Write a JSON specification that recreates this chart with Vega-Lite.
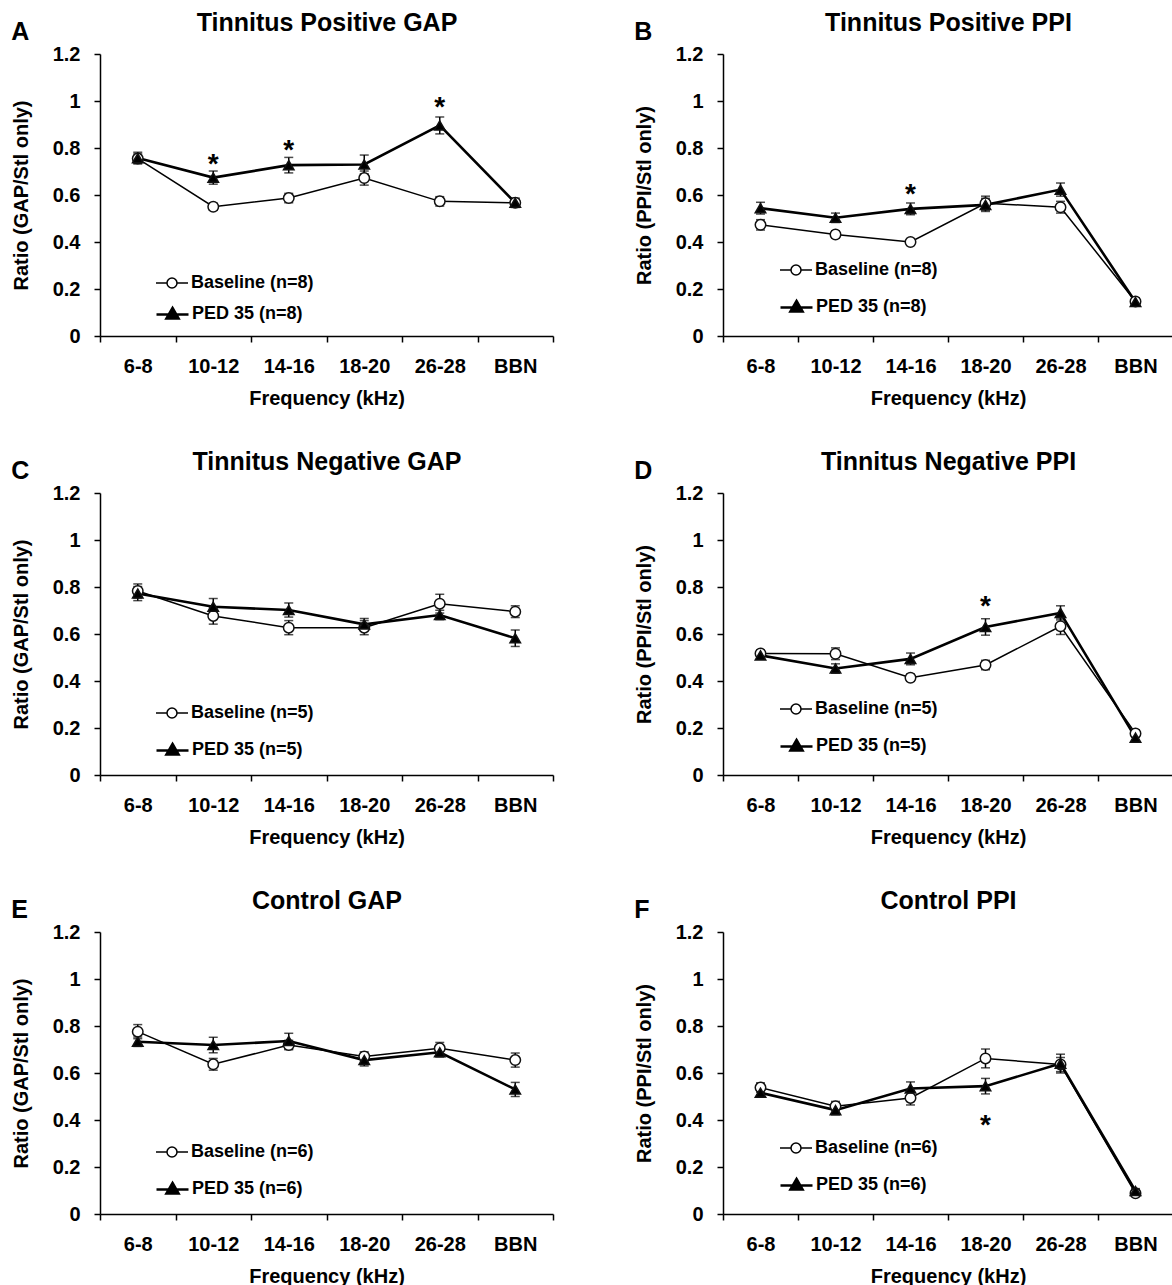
{
  "$schema": "https://vega.github.io/schema/vega-lite/v6.json",
  "padding": {"left": 11, "top": 10, "right": 0, "bottom": 0},
  "background": "white",
  "columns": 2,
  "spacing": {"row": 41, "column": 80},
  "resolve": {
    "scale": {"x": "independent", "y": "independent", "opacity": "independent", "strokeWidth": "independent"},
    "axis": {"x": "independent", "y": "independent"},
    "legend": {"opacity": "independent", "strokeWidth": "independent"}
  },
  "config": {
    "font": "Liberation Sans",
    "view": {"stroke": null},
    "axis": {"labelFontSize": 20, "labelFontWeight": "bold", "labelColor": "black", "titleFontSize": 20, "titleFontWeight": "bold", "titleColor": "black", "domainColor": "black", "domainWidth": 1.5, "tickColor": "black", "tickWidth": 1.5, "tickSize": 6, "grid": false},
    "legend": {"labelFontSize": 18, "labelFontWeight": "bold", "labelColor": "black", "symbolSize": 400, "symbolStrokeWidth": 1.5, "symbolStrokeColor": "black", "labelOffset": 8, "padding": 0},
    "title": {"fontSize": 25, "fontWeight": "bold", "color": "black"}
  },
  "concat": [
    {
      "width": 453, "height": 282,
      "title": {"text": "A", "anchor": "start", "frame": "bounds", "offset": -55, "baseline": "alphabetic"},
      "data": {"values": [
        {"freq": "6-8", "group": "Baseline (n=8)", "mean": 0.755, "err": 0.02},
        {"freq": "10-12", "group": "Baseline (n=8)", "mean": 0.55, "err": 0.015},
        {"freq": "14-16", "group": "Baseline (n=8)", "mean": 0.587, "err": 0.02},
        {"freq": "18-20", "group": "Baseline (n=8)", "mean": 0.672, "err": 0.03},
        {"freq": "26-28", "group": "Baseline (n=8)", "mean": 0.573, "err": 0.02},
        {"freq": "BBN", "group": "Baseline (n=8)", "mean": 0.567, "err": 0.015},
        {"freq": "6-8", "group": "PED 35 (n=8)", "mean": 0.757, "err": 0.025},
        {"freq": "10-12", "group": "PED 35 (n=8)", "mean": 0.674, "err": 0.028},
        {"freq": "14-16", "group": "PED 35 (n=8)", "mean": 0.727, "err": 0.033},
        {"freq": "18-20", "group": "PED 35 (n=8)", "mean": 0.73, "err": 0.04},
        {"freq": "26-28", "group": "PED 35 (n=8)", "mean": 0.896, "err": 0.036},
        {"freq": "BBN", "group": "PED 35 (n=8)", "mean": 0.567, "err": 0.02}
      ]},
      "resolve": {"axis": {"x": "independent"}},
      "layer": [
        {
          "encoding": {
            "x": {"field": "freq", "type": "ordinal", "sort": ["6-8", "10-12", "14-16", "18-20", "26-28", "BBN"], "scale": {"type": "band", "paddingInner": 0, "paddingOuter": 0}, "axis": {"title": "Frequency (kHz)", "labelAngle": 0, "tickBand": "extent", "labelPadding": 14, "titlePadding": 12}},
            "y": {"field": "mean", "type": "quantitative", "scale": {"domain": [0, 1.2]}, "axis": {"title": "Ratio (GAP/Stl only)", "values": [0, 0.2, 0.4, 0.6, 0.8, 1, 1.2], "format": ".1~f", "labelPadding": 14, "titlePadding": 21}}
          },
          "layer": [
            {"mark": {"type": "errorbar", "color": "black", "ticks": {"size": 9, "thickness": 1.5, "color": "black"}, "rule": {"strokeWidth": 1.5, "color": "black"}}, "encoding": {"yError": {"field": "err"}, "detail": {"field": "group"}}},
            {"transform": [{"filter": "indexof(datum.group,'Baseline')===0"}], "mark": {"type": "line", "color": "black", "strokeWidth": 1.5},
             "encoding": {"opacity": {"field": "group", "type": "nominal", "scale": {"range": [1, 1]}, "legend": {"title": null, "orient": "none", "legendX": 61, "legendY": 218, "symbolType": "M-1.6,0H-0.5M-0.5,0A0.5,0.5,0,1,1,0.5,0A0.5,0.5,0,1,1,-0.5,0ZM0.5,0H1.6", "symbolFillColor": "white", "symbolStrokeColor": "black", "symbolStrokeWidth": 1.5}}}},
            {"transform": [{"filter": "indexof(datum.group,'PED')===0"}], "mark": {"type": "line", "color": "black"},
             "encoding": {"strokeWidth": {"field": "group", "type": "nominal", "scale": {"range": [2.6, 2.6]}, "legend": {"title": null, "orient": "none", "legendX": 61, "legendY": 248, "symbolType": "M-1.6,0.1H1.6M0,-0.55L0.6,0.5L-0.6,0.5ZM-0.45,0.3H0.45M-0.3,0.05H0.3M-0.15,-0.2H0.15", "symbolFillColor": "black", "symbolStrokeColor": "black"}}}},
            {"mark": {"type": "point", "filled": true, "size": 110, "stroke": "#111", "strokeWidth": 1.5, "opacity": 1},
             "encoding": {
               "shape": {"condition": {"test": "indexof(datum.group,'Baseline')===0", "value": "circle"}, "value": "triangle-up"},
               "fill": {"condition": {"test": "indexof(datum.group,'Baseline')===0", "value": "white"}, "value": "black"}
             }}
          ]
        },
        {
          "data": {"values": [
            {"freq": "10-12", "y": 0.762},
            {"freq": "14-16", "y": 0.823},
            {"freq": "26-28", "y": 1.006}
          ]},
          "mark": {"type": "text", "text": "*", "fontSize": 28, "fontWeight": "bold", "baseline": "middle", "dy": 8, "color": "black"},
          "encoding": {
            "x": {"field": "freq", "type": "ordinal", "sort": ["6-8", "10-12", "14-16", "18-20", "26-28", "BBN"], "axis": {"orient": "top", "title": "Tinnitus Positive GAP", "titleFontSize": 25, "labels": false, "ticks": false, "domain": false, "titlePadding": 19}},
            "y": {"field": "y", "type": "quantitative", "axis": {"title": "Ratio (GAP/Stl only)"}}
          }
        }
      ]
    },
    {
      "width": 450, "height": 282,
      "title": {"text": "B", "anchor": "start", "frame": "bounds", "offset": -55, "baseline": "alphabetic"},
      "data": {"values": [
        {"freq": "6-8", "group": "Baseline (n=8)", "mean": 0.473, "err": 0.022},
        {"freq": "10-12", "group": "Baseline (n=8)", "mean": 0.432, "err": 0.015},
        {"freq": "14-16", "group": "Baseline (n=8)", "mean": 0.4, "err": 0.012},
        {"freq": "18-20", "group": "Baseline (n=8)", "mean": 0.565, "err": 0.03},
        {"freq": "26-28", "group": "Baseline (n=8)", "mean": 0.548, "err": 0.025},
        {"freq": "BBN", "group": "Baseline (n=8)", "mean": 0.147, "err": 0.015},
        {"freq": "6-8", "group": "PED 35 (n=8)", "mean": 0.544, "err": 0.025},
        {"freq": "10-12", "group": "PED 35 (n=8)", "mean": 0.503, "err": 0.02},
        {"freq": "14-16", "group": "PED 35 (n=8)", "mean": 0.541, "err": 0.025},
        {"freq": "18-20", "group": "PED 35 (n=8)", "mean": 0.558, "err": 0.028},
        {"freq": "26-28", "group": "PED 35 (n=8)", "mean": 0.623, "err": 0.028},
        {"freq": "BBN", "group": "PED 35 (n=8)", "mean": 0.145, "err": 0.012}
      ]},
      "resolve": {"axis": {"x": "independent"}},
      "layer": [
        {
          "encoding": {
            "x": {"field": "freq", "type": "ordinal", "sort": ["6-8", "10-12", "14-16", "18-20", "26-28", "BBN"], "scale": {"type": "band", "paddingInner": 0, "paddingOuter": 0}, "axis": {"title": "Frequency (kHz)", "labelAngle": 0, "tickBand": "extent", "labelPadding": 14, "titlePadding": 12}},
            "y": {"field": "mean", "type": "quantitative", "scale": {"domain": [0, 1.2]}, "axis": {"title": "Ratio (PPI/Stl only)", "values": [0, 0.2, 0.4, 0.6, 0.8, 1, 1.2], "format": ".1~f", "labelPadding": 14, "titlePadding": 21}}
          },
          "layer": [
            {"mark": {"type": "errorbar", "color": "black", "ticks": {"size": 9, "thickness": 1.5, "color": "black"}, "rule": {"strokeWidth": 1.5, "color": "black"}}, "encoding": {"yError": {"field": "err"}, "detail": {"field": "group"}}},
            {"transform": [{"filter": "indexof(datum.group,'Baseline')===0"}], "mark": {"type": "line", "color": "black", "strokeWidth": 1.5},
             "encoding": {"opacity": {"field": "group", "type": "nominal", "scale": {"range": [1, 1]}, "legend": {"title": null, "orient": "none", "legendX": 62, "legendY": 205, "symbolType": "M-1.6,0H-0.5M-0.5,0A0.5,0.5,0,1,1,0.5,0A0.5,0.5,0,1,1,-0.5,0ZM0.5,0H1.6", "symbolFillColor": "white", "symbolStrokeColor": "black", "symbolStrokeWidth": 1.5}}}},
            {"transform": [{"filter": "indexof(datum.group,'PED')===0"}], "mark": {"type": "line", "color": "black"},
             "encoding": {"strokeWidth": {"field": "group", "type": "nominal", "scale": {"range": [2.6, 2.6]}, "legend": {"title": null, "orient": "none", "legendX": 62, "legendY": 241, "symbolType": "M-1.6,0.1H1.6M0,-0.55L0.6,0.5L-0.6,0.5ZM-0.45,0.3H0.45M-0.3,0.05H0.3M-0.15,-0.2H0.15", "symbolFillColor": "black", "symbolStrokeColor": "black"}}}},
            {"mark": {"type": "point", "filled": true, "size": 110, "stroke": "#111", "strokeWidth": 1.5, "opacity": 1},
             "encoding": {
               "shape": {"condition": {"test": "indexof(datum.group,'Baseline')===0", "value": "circle"}, "value": "triangle-up"},
               "fill": {"condition": {"test": "indexof(datum.group,'Baseline')===0", "value": "white"}, "value": "black"}
             }}
          ]
        },
        {
          "data": {"values": [
            {"freq": "14-16", "y": 0.633}
          ]},
          "mark": {"type": "text", "text": "*", "fontSize": 28, "fontWeight": "bold", "baseline": "middle", "dy": 8, "color": "black"},
          "encoding": {
            "x": {"field": "freq", "type": "ordinal", "sort": ["6-8", "10-12", "14-16", "18-20", "26-28", "BBN"], "axis": {"orient": "top", "title": "Tinnitus Positive PPI", "titleFontSize": 25, "labels": false, "ticks": false, "domain": false, "titlePadding": 19}},
            "y": {"field": "y", "type": "quantitative", "axis": {"title": "Ratio (PPI/Stl only)"}}
          }
        }
      ]
    },
    {
      "width": 453, "height": 282,
      "title": {"text": "C", "anchor": "start", "frame": "bounds", "offset": -55, "baseline": "alphabetic"},
      "data": {"values": [
        {"freq": "6-8", "group": "Baseline (n=5)", "mean": 0.783, "err": 0.03},
        {"freq": "10-12", "group": "Baseline (n=5)", "mean": 0.677, "err": 0.035},
        {"freq": "14-16", "group": "Baseline (n=5)", "mean": 0.627, "err": 0.03},
        {"freq": "18-20", "group": "Baseline (n=5)", "mean": 0.627, "err": 0.03},
        {"freq": "26-28", "group": "Baseline (n=5)", "mean": 0.729, "err": 0.04},
        {"freq": "BBN", "group": "Baseline (n=5)", "mean": 0.695, "err": 0.025},
        {"freq": "6-8", "group": "PED 35 (n=5)", "mean": 0.772, "err": 0.03},
        {"freq": "10-12", "group": "PED 35 (n=5)", "mean": 0.716, "err": 0.035},
        {"freq": "14-16", "group": "PED 35 (n=5)", "mean": 0.702, "err": 0.03},
        {"freq": "18-20", "group": "PED 35 (n=5)", "mean": 0.641, "err": 0.025},
        {"freq": "26-28", "group": "PED 35 (n=5)", "mean": 0.681, "err": 0.02},
        {"freq": "BBN", "group": "PED 35 (n=5)", "mean": 0.582, "err": 0.035}
      ]},
      "resolve": {"axis": {"x": "independent"}},
      "layer": [
        {
          "encoding": {
            "x": {"field": "freq", "type": "ordinal", "sort": ["6-8", "10-12", "14-16", "18-20", "26-28", "BBN"], "scale": {"type": "band", "paddingInner": 0, "paddingOuter": 0}, "axis": {"title": "Frequency (kHz)", "labelAngle": 0, "tickBand": "extent", "labelPadding": 14, "titlePadding": 12}},
            "y": {"field": "mean", "type": "quantitative", "scale": {"domain": [0, 1.2]}, "axis": {"title": "Ratio (GAP/Stl only)", "values": [0, 0.2, 0.4, 0.6, 0.8, 1, 1.2], "format": ".1~f", "labelPadding": 14, "titlePadding": 21}}
          },
          "layer": [
            {"mark": {"type": "errorbar", "color": "black", "ticks": {"size": 9, "thickness": 1.5, "color": "black"}, "rule": {"strokeWidth": 1.5, "color": "black"}}, "encoding": {"yError": {"field": "err"}, "detail": {"field": "group"}}},
            {"transform": [{"filter": "indexof(datum.group,'Baseline')===0"}], "mark": {"type": "line", "color": "black", "strokeWidth": 1.5},
             "encoding": {"opacity": {"field": "group", "type": "nominal", "scale": {"range": [1, 1]}, "legend": {"title": null, "orient": "none", "legendX": 61, "legendY": 209, "symbolType": "M-1.6,0H-0.5M-0.5,0A0.5,0.5,0,1,1,0.5,0A0.5,0.5,0,1,1,-0.5,0ZM0.5,0H1.6", "symbolFillColor": "white", "symbolStrokeColor": "black", "symbolStrokeWidth": 1.5}}}},
            {"transform": [{"filter": "indexof(datum.group,'PED')===0"}], "mark": {"type": "line", "color": "black"},
             "encoding": {"strokeWidth": {"field": "group", "type": "nominal", "scale": {"range": [2.6, 2.6]}, "legend": {"title": null, "orient": "none", "legendX": 61, "legendY": 245, "symbolType": "M-1.6,0.1H1.6M0,-0.55L0.6,0.5L-0.6,0.5ZM-0.45,0.3H0.45M-0.3,0.05H0.3M-0.15,-0.2H0.15", "symbolFillColor": "black", "symbolStrokeColor": "black"}}}},
            {"mark": {"type": "point", "filled": true, "size": 110, "stroke": "#111", "strokeWidth": 1.5, "opacity": 1},
             "encoding": {
               "shape": {"condition": {"test": "indexof(datum.group,'Baseline')===0", "value": "circle"}, "value": "triangle-up"},
               "fill": {"condition": {"test": "indexof(datum.group,'Baseline')===0", "value": "white"}, "value": "black"}
             }}
          ]
        },
        {
          "data": {"values": []},
          "mark": {"type": "text", "text": "*", "fontSize": 28, "fontWeight": "bold", "baseline": "middle", "dy": 8, "color": "black"},
          "encoding": {
            "x": {"field": "freq", "type": "ordinal", "sort": ["6-8", "10-12", "14-16", "18-20", "26-28", "BBN"], "axis": {"orient": "top", "title": "Tinnitus Negative GAP", "titleFontSize": 25, "labels": false, "ticks": false, "domain": false, "titlePadding": 19}},
            "y": {"field": "y", "type": "quantitative", "axis": {"title": "Ratio (GAP/Stl only)"}}
          }
        }
      ]
    },
    {
      "width": 450, "height": 282,
      "title": {"text": "D", "anchor": "start", "frame": "bounds", "offset": -55, "baseline": "alphabetic"},
      "data": {"values": [
        {"freq": "6-8", "group": "Baseline (n=5)", "mean": 0.517, "err": 0.015},
        {"freq": "10-12", "group": "Baseline (n=5)", "mean": 0.516, "err": 0.025},
        {"freq": "14-16", "group": "Baseline (n=5)", "mean": 0.414, "err": 0.015},
        {"freq": "18-20", "group": "Baseline (n=5)", "mean": 0.468, "err": 0.02},
        {"freq": "26-28", "group": "Baseline (n=5)", "mean": 0.633, "err": 0.035},
        {"freq": "BBN", "group": "Baseline (n=5)", "mean": 0.177, "err": 0.015},
        {"freq": "6-8", "group": "PED 35 (n=5)", "mean": 0.509, "err": 0.015},
        {"freq": "10-12", "group": "PED 35 (n=5)", "mean": 0.453, "err": 0.02},
        {"freq": "14-16", "group": "PED 35 (n=5)", "mean": 0.494, "err": 0.025},
        {"freq": "18-20", "group": "PED 35 (n=5)", "mean": 0.63, "err": 0.035},
        {"freq": "26-28", "group": "PED 35 (n=5)", "mean": 0.69, "err": 0.03},
        {"freq": "BBN", "group": "PED 35 (n=5)", "mean": 0.159, "err": 0.012}
      ]},
      "resolve": {"axis": {"x": "independent"}},
      "layer": [
        {
          "encoding": {
            "x": {"field": "freq", "type": "ordinal", "sort": ["6-8", "10-12", "14-16", "18-20", "26-28", "BBN"], "scale": {"type": "band", "paddingInner": 0, "paddingOuter": 0}, "axis": {"title": "Frequency (kHz)", "labelAngle": 0, "tickBand": "extent", "labelPadding": 14, "titlePadding": 12}},
            "y": {"field": "mean", "type": "quantitative", "scale": {"domain": [0, 1.2]}, "axis": {"title": "Ratio (PPI/Stl only)", "values": [0, 0.2, 0.4, 0.6, 0.8, 1, 1.2], "format": ".1~f", "labelPadding": 14, "titlePadding": 21}}
          },
          "layer": [
            {"mark": {"type": "errorbar", "color": "black", "ticks": {"size": 9, "thickness": 1.5, "color": "black"}, "rule": {"strokeWidth": 1.5, "color": "black"}}, "encoding": {"yError": {"field": "err"}, "detail": {"field": "group"}}},
            {"transform": [{"filter": "indexof(datum.group,'Baseline')===0"}], "mark": {"type": "line", "color": "black", "strokeWidth": 1.5},
             "encoding": {"opacity": {"field": "group", "type": "nominal", "scale": {"range": [1, 1]}, "legend": {"title": null, "orient": "none", "legendX": 62, "legendY": 205, "symbolType": "M-1.6,0H-0.5M-0.5,0A0.5,0.5,0,1,1,0.5,0A0.5,0.5,0,1,1,-0.5,0ZM0.5,0H1.6", "symbolFillColor": "white", "symbolStrokeColor": "black", "symbolStrokeWidth": 1.5}}}},
            {"transform": [{"filter": "indexof(datum.group,'PED')===0"}], "mark": {"type": "line", "color": "black"},
             "encoding": {"strokeWidth": {"field": "group", "type": "nominal", "scale": {"range": [2.6, 2.6]}, "legend": {"title": null, "orient": "none", "legendX": 62, "legendY": 241, "symbolType": "M-1.6,0.1H1.6M0,-0.55L0.6,0.5L-0.6,0.5ZM-0.45,0.3H0.45M-0.3,0.05H0.3M-0.15,-0.2H0.15", "symbolFillColor": "black", "symbolStrokeColor": "black"}}}},
            {"mark": {"type": "point", "filled": true, "size": 110, "stroke": "#111", "strokeWidth": 1.5, "opacity": 1},
             "encoding": {
               "shape": {"condition": {"test": "indexof(datum.group,'Baseline')===0", "value": "circle"}, "value": "triangle-up"},
               "fill": {"condition": {"test": "indexof(datum.group,'Baseline')===0", "value": "white"}, "value": "black"}
             }}
          ]
        },
        {
          "data": {"values": [
            {"freq": "18-20", "y": 0.747}
          ]},
          "mark": {"type": "text", "text": "*", "fontSize": 28, "fontWeight": "bold", "baseline": "middle", "dy": 8, "color": "black"},
          "encoding": {
            "x": {"field": "freq", "type": "ordinal", "sort": ["6-8", "10-12", "14-16", "18-20", "26-28", "BBN"], "axis": {"orient": "top", "title": "Tinnitus Negative PPI", "titleFontSize": 25, "labels": false, "ticks": false, "domain": false, "titlePadding": 19}},
            "y": {"field": "y", "type": "quantitative", "axis": {"title": "Ratio (PPI/Stl only)"}}
          }
        }
      ]
    },
    {
      "width": 453, "height": 282,
      "title": {"text": "E", "anchor": "start", "frame": "bounds", "offset": -55, "baseline": "alphabetic"},
      "data": {"values": [
        {"freq": "6-8", "group": "Baseline (n=6)", "mean": 0.776, "err": 0.03},
        {"freq": "10-12", "group": "Baseline (n=6)", "mean": 0.637, "err": 0.025},
        {"freq": "14-16", "group": "Baseline (n=6)", "mean": 0.719, "err": 0.02},
        {"freq": "18-20", "group": "Baseline (n=6)", "mean": 0.67, "err": 0.02},
        {"freq": "26-28", "group": "Baseline (n=6)", "mean": 0.705, "err": 0.025},
        {"freq": "BBN", "group": "Baseline (n=6)", "mean": 0.655, "err": 0.03},
        {"freq": "6-8", "group": "PED 35 (n=6)", "mean": 0.733, "err": 0.02},
        {"freq": "10-12", "group": "PED 35 (n=6)", "mean": 0.719, "err": 0.033},
        {"freq": "14-16", "group": "PED 35 (n=6)", "mean": 0.736, "err": 0.033},
        {"freq": "18-20", "group": "PED 35 (n=6)", "mean": 0.655, "err": 0.025},
        {"freq": "26-28", "group": "PED 35 (n=6)", "mean": 0.688, "err": 0.02},
        {"freq": "BBN", "group": "PED 35 (n=6)", "mean": 0.53, "err": 0.03}
      ]},
      "resolve": {"axis": {"x": "independent"}},
      "layer": [
        {
          "encoding": {
            "x": {"field": "freq", "type": "ordinal", "sort": ["6-8", "10-12", "14-16", "18-20", "26-28", "BBN"], "scale": {"type": "band", "paddingInner": 0, "paddingOuter": 0}, "axis": {"title": "Frequency (kHz)", "labelAngle": 0, "tickBand": "extent", "labelPadding": 14, "titlePadding": 12}},
            "y": {"field": "mean", "type": "quantitative", "scale": {"domain": [0, 1.2]}, "axis": {"title": "Ratio (GAP/Stl only)", "values": [0, 0.2, 0.4, 0.6, 0.8, 1, 1.2], "format": ".1~f", "labelPadding": 14, "titlePadding": 21}}
          },
          "layer": [
            {"mark": {"type": "errorbar", "color": "black", "ticks": {"size": 9, "thickness": 1.5, "color": "black"}, "rule": {"strokeWidth": 1.5, "color": "black"}}, "encoding": {"yError": {"field": "err"}, "detail": {"field": "group"}}},
            {"transform": [{"filter": "indexof(datum.group,'Baseline')===0"}], "mark": {"type": "line", "color": "black", "strokeWidth": 1.5},
             "encoding": {"opacity": {"field": "group", "type": "nominal", "scale": {"range": [1, 1]}, "legend": {"title": null, "orient": "none", "legendX": 61, "legendY": 209, "symbolType": "M-1.6,0H-0.5M-0.5,0A0.5,0.5,0,1,1,0.5,0A0.5,0.5,0,1,1,-0.5,0ZM0.5,0H1.6", "symbolFillColor": "white", "symbolStrokeColor": "black", "symbolStrokeWidth": 1.5}}}},
            {"transform": [{"filter": "indexof(datum.group,'PED')===0"}], "mark": {"type": "line", "color": "black"},
             "encoding": {"strokeWidth": {"field": "group", "type": "nominal", "scale": {"range": [2.6, 2.6]}, "legend": {"title": null, "orient": "none", "legendX": 61, "legendY": 245, "symbolType": "M-1.6,0.1H1.6M0,-0.55L0.6,0.5L-0.6,0.5ZM-0.45,0.3H0.45M-0.3,0.05H0.3M-0.15,-0.2H0.15", "symbolFillColor": "black", "symbolStrokeColor": "black"}}}},
            {"mark": {"type": "point", "filled": true, "size": 110, "stroke": "#111", "strokeWidth": 1.5, "opacity": 1},
             "encoding": {
               "shape": {"condition": {"test": "indexof(datum.group,'Baseline')===0", "value": "circle"}, "value": "triangle-up"},
               "fill": {"condition": {"test": "indexof(datum.group,'Baseline')===0", "value": "white"}, "value": "black"}
             }}
          ]
        },
        {
          "data": {"values": []},
          "mark": {"type": "text", "text": "*", "fontSize": 28, "fontWeight": "bold", "baseline": "middle", "dy": 8, "color": "black"},
          "encoding": {
            "x": {"field": "freq", "type": "ordinal", "sort": ["6-8", "10-12", "14-16", "18-20", "26-28", "BBN"], "axis": {"orient": "top", "title": "Control GAP", "titleFontSize": 25, "labels": false, "ticks": false, "domain": false, "titlePadding": 19}},
            "y": {"field": "y", "type": "quantitative", "axis": {"title": "Ratio (GAP/Stl only)"}}
          }
        }
      ]
    },
    {
      "width": 450, "height": 282,
      "title": {"text": "F", "anchor": "start", "frame": "bounds", "offset": -55, "baseline": "alphabetic"},
      "data": {"values": [
        {"freq": "6-8", "group": "Baseline (n=6)", "mean": 0.538, "err": 0.02},
        {"freq": "10-12", "group": "Baseline (n=6)", "mean": 0.459, "err": 0.02},
        {"freq": "14-16", "group": "Baseline (n=6)", "mean": 0.494, "err": 0.03},
        {"freq": "18-20", "group": "Baseline (n=6)", "mean": 0.662, "err": 0.04},
        {"freq": "26-28", "group": "Baseline (n=6)", "mean": 0.636, "err": 0.03},
        {"freq": "BBN", "group": "Baseline (n=6)", "mean": 0.088, "err": 0.01},
        {"freq": "6-8", "group": "PED 35 (n=6)", "mean": 0.516, "err": 0.015},
        {"freq": "10-12", "group": "PED 35 (n=6)", "mean": 0.442, "err": 0.02},
        {"freq": "14-16", "group": "PED 35 (n=6)", "mean": 0.534, "err": 0.028},
        {"freq": "18-20", "group": "PED 35 (n=6)", "mean": 0.544, "err": 0.033},
        {"freq": "26-28", "group": "PED 35 (n=6)", "mean": 0.64, "err": 0.04},
        {"freq": "BBN", "group": "PED 35 (n=6)", "mean": 0.098, "err": 0.01}
      ]},
      "resolve": {"axis": {"x": "independent"}},
      "layer": [
        {
          "encoding": {
            "x": {"field": "freq", "type": "ordinal", "sort": ["6-8", "10-12", "14-16", "18-20", "26-28", "BBN"], "scale": {"type": "band", "paddingInner": 0, "paddingOuter": 0}, "axis": {"title": "Frequency (kHz)", "labelAngle": 0, "tickBand": "extent", "labelPadding": 14, "titlePadding": 12}},
            "y": {"field": "mean", "type": "quantitative", "scale": {"domain": [0, 1.2]}, "axis": {"title": "Ratio (PPI/Stl only)", "values": [0, 0.2, 0.4, 0.6, 0.8, 1, 1.2], "format": ".1~f", "labelPadding": 14, "titlePadding": 21}}
          },
          "layer": [
            {"mark": {"type": "errorbar", "color": "black", "ticks": {"size": 9, "thickness": 1.5, "color": "black"}, "rule": {"strokeWidth": 1.5, "color": "black"}}, "encoding": {"yError": {"field": "err"}, "detail": {"field": "group"}}},
            {"transform": [{"filter": "indexof(datum.group,'Baseline')===0"}], "mark": {"type": "line", "color": "black", "strokeWidth": 1.5},
             "encoding": {"opacity": {"field": "group", "type": "nominal", "scale": {"range": [1, 1]}, "legend": {"title": null, "orient": "none", "legendX": 62, "legendY": 205, "symbolType": "M-1.6,0H-0.5M-0.5,0A0.5,0.5,0,1,1,0.5,0A0.5,0.5,0,1,1,-0.5,0ZM0.5,0H1.6", "symbolFillColor": "white", "symbolStrokeColor": "black", "symbolStrokeWidth": 1.5}}}},
            {"transform": [{"filter": "indexof(datum.group,'PED')===0"}], "mark": {"type": "line", "color": "black"},
             "encoding": {"strokeWidth": {"field": "group", "type": "nominal", "scale": {"range": [2.6, 2.6]}, "legend": {"title": null, "orient": "none", "legendX": 62, "legendY": 241, "symbolType": "M-1.6,0.1H1.6M0,-0.55L0.6,0.5L-0.6,0.5ZM-0.45,0.3H0.45M-0.3,0.05H0.3M-0.15,-0.2H0.15", "symbolFillColor": "black", "symbolStrokeColor": "black"}}}},
            {"mark": {"type": "point", "filled": true, "size": 110, "stroke": "#111", "strokeWidth": 1.5, "opacity": 1},
             "encoding": {
               "shape": {"condition": {"test": "indexof(datum.group,'Baseline')===0", "value": "circle"}, "value": "triangle-up"},
               "fill": {"condition": {"test": "indexof(datum.group,'Baseline')===0", "value": "white"}, "value": "black"}
             }}
          ]
        },
        {
          "data": {"values": [
            {"freq": "18-20", "y": 0.407}
          ]},
          "mark": {"type": "text", "text": "*", "fontSize": 28, "fontWeight": "bold", "baseline": "middle", "dy": 8, "color": "black"},
          "encoding": {
            "x": {"field": "freq", "type": "ordinal", "sort": ["6-8", "10-12", "14-16", "18-20", "26-28", "BBN"], "axis": {"orient": "top", "title": "Control PPI", "titleFontSize": 25, "labels": false, "ticks": false, "domain": false, "titlePadding": 19}},
            "y": {"field": "y", "type": "quantitative", "axis": {"title": "Ratio (PPI/Stl only)"}}
          }
        }
      ]
    }
  ]
}
